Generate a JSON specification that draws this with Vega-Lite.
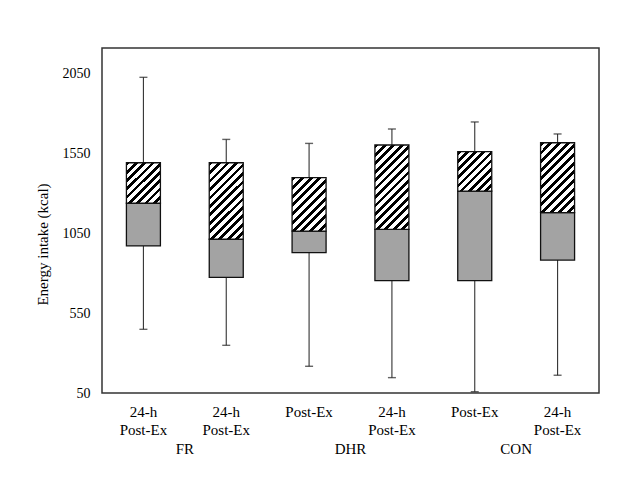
{
  "$schema": "https://vega.github.io/schema/vega-lite/v6.json",
  "width": 497,
  "height": 345,
  "autosize": {"type": "none"},
  "padding": {"left": 102, "top": 48, "right": 19, "bottom": 104},
  "background": "white",
  "config": {
    "view": {"stroke": "#333", "strokeWidth": 1.5},
    "font": "Liberation Serif",
    "axis": {"labelFont": "Liberation Serif", "titleFont": "Liberation Serif", "labelColor": "#000", "titleColor": "#000", "titleFontWeight": "normal"},
    "axisY": {"ticks": false, "domain": false, "grid": false, "labelFontSize": 14, "labelPadding": 12, "titleFontSize": 15, "titleX": -52, "titleY": 196, "titleAngle": -90, "titleBaseline": "bottom", "titleAlign": "center", "format": "d"}
  },
  "datasets": {
    "boxes": [
      {"key": "1|24-h|Post-Ex", "group": "FR", "lower": 448, "q1": 969, "median": 1236, "q3": 1489, "upper": 2023},
      {"key": "2|24-h|Post-Ex", "group": "FR", "lower": 348, "q1": 773, "median": 1011, "q3": 1489, "upper": 1635},
      {"key": "3|Post-Ex", "group": "DHR", "lower": 217, "q1": 927, "median": 1062, "q3": 1396, "upper": 1610},
      {"key": "4|24-h|Post-Ex", "group": "DHR", "lower": 146, "q1": 752, "median": 1073, "q3": 1600, "upper": 1700},
      {"key": "5|Post-Ex", "group": "CON", "lower": 58, "q1": 752, "median": 1312, "q3": 1558, "upper": 1744},
      {"key": "6|24-h|Post-Ex", "group": "CON", "lower": 161, "q1": 881, "median": 1177, "q3": 1614, "upper": 1669}
    ],
    "groups": [{"group": "FR"}, {"group": "DHR"}, {"group": "CON"}]
  },
  "layer": [
    {
      "data": {"name": "boxes"},
      "encoding": {
        "x": {
          "field": "key", "type": "nominal", "sort": null,
          "scale": {"paddingInner": 0, "paddingOuter": 0},
          "axis": {"title": null, "labelExpr": "slice(split(datum.value,'|'),1)", "labelAngle": 0, "labelFontSize": 15, "labelLineHeight": 18, "labelPadding": 11, "ticks": false, "domain": false, "labelBaseline": "top"}
        }
      },
      "layer": [
        {
          "mark": {"type": "rule", "color": "#333", "strokeWidth": 1.1},
          "encoding": {
            "y": {"field": "lower", "type": "quantitative", "title": "Energy intake (kcal)", "scale": {"domain": [50, 2206.25], "nice": false, "zero": false},
              "axis": {"values": [50, 550, 1050, 1550, 2050], "format": "d"}},
            "y2": {"field": "upper"}
          }
        },
        {
          "mark": {"type": "tick", "orient": "horizontal", "size": 8, "thickness": 1.4, "color": "#222"},
          "encoding": {"y": {"field": "upper", "type": "quantitative", "title": "Energy intake (kcal)"}}
        },
        {
          "mark": {"type": "tick", "orient": "horizontal", "size": 8, "thickness": 1.4, "color": "#222"},
          "encoding": {"y": {"field": "lower", "type": "quantitative", "title": "Energy intake (kcal)"}}
        },
        {
          "mark": {"type": "bar", "width": 34, "fill": "#a3a3a3", "stroke": "#111", "strokeWidth": 1.3},
          "encoding": {"y": {"field": "q1", "type": "quantitative", "title": "Energy intake (kcal)"}, "y2": {"field": "median"}}
        },
        {
          "transform": [{"filter": "datum.key == '1|24-h|Post-Ex'"}],
          "mark": {"type": "bar", "width": 34, "stroke": "#111", "strokeWidth": 1.3,
            "fill": {"gradient": "linear", "x1": 0, "y1": 0, "x2": 0.9059, "y2": 1.079, "stops": [
              {"offset": 0, "color": "#000"}, {"offset": 0.05, "color": "#000"}, {"offset": 0.05, "color": "#fff"}, {"offset": 0.1111, "color": "#fff"},
              {"offset": 0.1111, "color": "#000"}, {"offset": 0.1611, "color": "#000"}, {"offset": 0.1611, "color": "#fff"}, {"offset": 0.2222, "color": "#fff"},
              {"offset": 0.2222, "color": "#000"}, {"offset": 0.2722, "color": "#000"}, {"offset": 0.2722, "color": "#fff"}, {"offset": 0.3333, "color": "#fff"},
              {"offset": 0.3333, "color": "#000"}, {"offset": 0.3833, "color": "#000"}, {"offset": 0.3833, "color": "#fff"}, {"offset": 0.4444, "color": "#fff"},
              {"offset": 0.4444, "color": "#000"}, {"offset": 0.4944, "color": "#000"}, {"offset": 0.4944, "color": "#fff"}, {"offset": 0.5556, "color": "#fff"},
              {"offset": 0.5556, "color": "#000"}, {"offset": 0.6056, "color": "#000"}, {"offset": 0.6056, "color": "#fff"}, {"offset": 0.6667, "color": "#fff"},
              {"offset": 0.6667, "color": "#000"}, {"offset": 0.7167, "color": "#000"}, {"offset": 0.7167, "color": "#fff"}, {"offset": 0.7778, "color": "#fff"},
              {"offset": 0.7778, "color": "#000"}, {"offset": 0.8278, "color": "#000"}, {"offset": 0.8278, "color": "#fff"}, {"offset": 0.8889, "color": "#fff"},
              {"offset": 0.8889, "color": "#000"}, {"offset": 0.9389, "color": "#000"}, {"offset": 0.9389, "color": "#fff"}, {"offset": 1, "color": "#fff"}
            ]}},
          "encoding": {"y": {"field": "median", "type": "quantitative", "title": "Energy intake (kcal)"}, "y2": {"field": "q3"}}
        },
        {
          "transform": [{"filter": "datum.key == '2|24-h|Post-Ex'"}],
          "mark": {"type": "bar", "width": 34, "stroke": "#111", "strokeWidth": 1.3,
            "fill": {"gradient": "linear", "x1": 0, "y1": 0, "x2": 0.5361, "y2": 1.2062, "stops": [
              {"offset": 0, "color": "#000"}, {"offset": 0.0346, "color": "#000"}, {"offset": 0.0346, "color": "#fff"}, {"offset": 0.0769, "color": "#fff"},
              {"offset": 0.0769, "color": "#000"}, {"offset": 0.1115, "color": "#000"}, {"offset": 0.1115, "color": "#fff"}, {"offset": 0.1538, "color": "#fff"},
              {"offset": 0.1538, "color": "#000"}, {"offset": 0.1885, "color": "#000"}, {"offset": 0.1885, "color": "#fff"}, {"offset": 0.2308, "color": "#fff"},
              {"offset": 0.2308, "color": "#000"}, {"offset": 0.2654, "color": "#000"}, {"offset": 0.2654, "color": "#fff"}, {"offset": 0.3077, "color": "#fff"},
              {"offset": 0.3077, "color": "#000"}, {"offset": 0.3423, "color": "#000"}, {"offset": 0.3423, "color": "#fff"}, {"offset": 0.3846, "color": "#fff"},
              {"offset": 0.3846, "color": "#000"}, {"offset": 0.4192, "color": "#000"}, {"offset": 0.4192, "color": "#fff"}, {"offset": 0.4615, "color": "#fff"},
              {"offset": 0.4615, "color": "#000"}, {"offset": 0.4962, "color": "#000"}, {"offset": 0.4962, "color": "#fff"}, {"offset": 0.5385, "color": "#fff"},
              {"offset": 0.5385, "color": "#000"}, {"offset": 0.5731, "color": "#000"}, {"offset": 0.5731, "color": "#fff"}, {"offset": 0.6154, "color": "#fff"},
              {"offset": 0.6154, "color": "#000"}, {"offset": 0.65, "color": "#000"}, {"offset": 0.65, "color": "#fff"}, {"offset": 0.6923, "color": "#fff"},
              {"offset": 0.6923, "color": "#000"}, {"offset": 0.7269, "color": "#000"}, {"offset": 0.7269, "color": "#fff"}, {"offset": 0.7692, "color": "#fff"},
              {"offset": 0.7692, "color": "#000"}, {"offset": 0.8038, "color": "#000"}, {"offset": 0.8038, "color": "#fff"}, {"offset": 0.8462, "color": "#fff"},
              {"offset": 0.8462, "color": "#000"}, {"offset": 0.8808, "color": "#000"}, {"offset": 0.8808, "color": "#fff"}, {"offset": 0.9231, "color": "#fff"},
              {"offset": 0.9231, "color": "#000"}, {"offset": 0.9577, "color": "#000"}, {"offset": 0.9577, "color": "#fff"}, {"offset": 1, "color": "#fff"}
            ]}},
          "encoding": {"y": {"field": "median", "type": "quantitative", "title": "Energy intake (kcal)"}, "y2": {"field": "q3"}}
        },
        {
          "transform": [{"filter": "datum.key == '3|Post-Ex'"}],
          "mark": {"type": "bar", "width": 34, "stroke": "#111", "strokeWidth": 1.3,
            "fill": {"gradient": "linear", "x1": 0, "y1": 0, "x2": 0.7415, "y2": 1.1646, "stops": [
              {"offset": 0, "color": "#000"}, {"offset": 0.045, "color": "#000"}, {"offset": 0.045, "color": "#fff"}, {"offset": 0.1, "color": "#fff"},
              {"offset": 0.1, "color": "#000"}, {"offset": 0.145, "color": "#000"}, {"offset": 0.145, "color": "#fff"}, {"offset": 0.2, "color": "#fff"},
              {"offset": 0.2, "color": "#000"}, {"offset": 0.245, "color": "#000"}, {"offset": 0.245, "color": "#fff"}, {"offset": 0.3, "color": "#fff"},
              {"offset": 0.3, "color": "#000"}, {"offset": 0.345, "color": "#000"}, {"offset": 0.345, "color": "#fff"}, {"offset": 0.4, "color": "#fff"},
              {"offset": 0.4, "color": "#000"}, {"offset": 0.445, "color": "#000"}, {"offset": 0.445, "color": "#fff"}, {"offset": 0.5, "color": "#fff"},
              {"offset": 0.5, "color": "#000"}, {"offset": 0.545, "color": "#000"}, {"offset": 0.545, "color": "#fff"}, {"offset": 0.6, "color": "#fff"},
              {"offset": 0.6, "color": "#000"}, {"offset": 0.645, "color": "#000"}, {"offset": 0.645, "color": "#fff"}, {"offset": 0.7, "color": "#fff"},
              {"offset": 0.7, "color": "#000"}, {"offset": 0.745, "color": "#000"}, {"offset": 0.745, "color": "#fff"}, {"offset": 0.8, "color": "#fff"},
              {"offset": 0.8, "color": "#000"}, {"offset": 0.845, "color": "#000"}, {"offset": 0.845, "color": "#fff"}, {"offset": 0.9, "color": "#fff"},
              {"offset": 0.9, "color": "#000"}, {"offset": 0.945, "color": "#000"}, {"offset": 0.945, "color": "#fff"}, {"offset": 1, "color": "#fff"}
            ]}},
          "encoding": {"y": {"field": "median", "type": "quantitative", "title": "Energy intake (kcal)"}, "y2": {"field": "q3"}}
        },
        {
          "transform": [{"filter": "datum.key == '4|24-h|Post-Ex'"}],
          "mark": {"type": "bar", "width": 34, "stroke": "#111", "strokeWidth": 1.3,
            "fill": {"gradient": "linear", "x1": 0, "y1": 0, "x2": 0.4868, "y2": 1.207, "stops": [
              {"offset": 0, "color": "#000"}, {"offset": 0.0321, "color": "#000"}, {"offset": 0.0321, "color": "#fff"}, {"offset": 0.0714, "color": "#fff"},
              {"offset": 0.0714, "color": "#000"}, {"offset": 0.1036, "color": "#000"}, {"offset": 0.1036, "color": "#fff"}, {"offset": 0.1429, "color": "#fff"},
              {"offset": 0.1429, "color": "#000"}, {"offset": 0.175, "color": "#000"}, {"offset": 0.175, "color": "#fff"}, {"offset": 0.2143, "color": "#fff"},
              {"offset": 0.2143, "color": "#000"}, {"offset": 0.2464, "color": "#000"}, {"offset": 0.2464, "color": "#fff"}, {"offset": 0.2857, "color": "#fff"},
              {"offset": 0.2857, "color": "#000"}, {"offset": 0.3179, "color": "#000"}, {"offset": 0.3179, "color": "#fff"}, {"offset": 0.3571, "color": "#fff"},
              {"offset": 0.3571, "color": "#000"}, {"offset": 0.3893, "color": "#000"}, {"offset": 0.3893, "color": "#fff"}, {"offset": 0.4286, "color": "#fff"},
              {"offset": 0.4286, "color": "#000"}, {"offset": 0.4607, "color": "#000"}, {"offset": 0.4607, "color": "#fff"}, {"offset": 0.5, "color": "#fff"},
              {"offset": 0.5, "color": "#000"}, {"offset": 0.5321, "color": "#000"}, {"offset": 0.5321, "color": "#fff"}, {"offset": 0.5714, "color": "#fff"},
              {"offset": 0.5714, "color": "#000"}, {"offset": 0.6036, "color": "#000"}, {"offset": 0.6036, "color": "#fff"}, {"offset": 0.6429, "color": "#fff"},
              {"offset": 0.6429, "color": "#000"}, {"offset": 0.675, "color": "#000"}, {"offset": 0.675, "color": "#fff"}, {"offset": 0.7143, "color": "#fff"},
              {"offset": 0.7143, "color": "#000"}, {"offset": 0.7464, "color": "#000"}, {"offset": 0.7464, "color": "#fff"}, {"offset": 0.7857, "color": "#fff"},
              {"offset": 0.7857, "color": "#000"}, {"offset": 0.8179, "color": "#000"}, {"offset": 0.8179, "color": "#fff"}, {"offset": 0.8571, "color": "#fff"},
              {"offset": 0.8571, "color": "#000"}, {"offset": 0.8893, "color": "#000"}, {"offset": 0.8893, "color": "#fff"}, {"offset": 0.9286, "color": "#fff"},
              {"offset": 0.9286, "color": "#000"}, {"offset": 0.9607, "color": "#000"}, {"offset": 0.9607, "color": "#fff"}, {"offset": 1, "color": "#fff"}
            ]}},
          "encoding": {"y": {"field": "median", "type": "quantitative", "title": "Energy intake (kcal)"}, "y2": {"field": "q3"}}
        },
        {
          "transform": [{"filter": "datum.key == '5|Post-Ex'"}],
          "mark": {"type": "bar", "width": 34, "stroke": "#111", "strokeWidth": 1.3,
            "fill": {"gradient": "linear", "x1": 0, "y1": 0, "x2": 0.9214, "y2": 1.0678, "stops": [
              {"offset": 0, "color": "#000"}, {"offset": 0.05, "color": "#000"}, {"offset": 0.05, "color": "#fff"}, {"offset": 0.1111, "color": "#fff"},
              {"offset": 0.1111, "color": "#000"}, {"offset": 0.1611, "color": "#000"}, {"offset": 0.1611, "color": "#fff"}, {"offset": 0.2222, "color": "#fff"},
              {"offset": 0.2222, "color": "#000"}, {"offset": 0.2722, "color": "#000"}, {"offset": 0.2722, "color": "#fff"}, {"offset": 0.3333, "color": "#fff"},
              {"offset": 0.3333, "color": "#000"}, {"offset": 0.3833, "color": "#000"}, {"offset": 0.3833, "color": "#fff"}, {"offset": 0.4444, "color": "#fff"},
              {"offset": 0.4444, "color": "#000"}, {"offset": 0.4944, "color": "#000"}, {"offset": 0.4944, "color": "#fff"}, {"offset": 0.5556, "color": "#fff"},
              {"offset": 0.5556, "color": "#000"}, {"offset": 0.6056, "color": "#000"}, {"offset": 0.6056, "color": "#fff"}, {"offset": 0.6667, "color": "#fff"},
              {"offset": 0.6667, "color": "#000"}, {"offset": 0.7167, "color": "#000"}, {"offset": 0.7167, "color": "#fff"}, {"offset": 0.7778, "color": "#fff"},
              {"offset": 0.7778, "color": "#000"}, {"offset": 0.8278, "color": "#000"}, {"offset": 0.8278, "color": "#fff"}, {"offset": 0.8889, "color": "#fff"},
              {"offset": 0.8889, "color": "#000"}, {"offset": 0.9389, "color": "#000"}, {"offset": 0.9389, "color": "#fff"}, {"offset": 1, "color": "#fff"}
            ]}},
          "encoding": {"y": {"field": "median", "type": "quantitative", "title": "Energy intake (kcal)"}, "y2": {"field": "q3"}}
        },
        {
          "transform": [{"filter": "datum.key == '6|24-h|Post-Ex'"}],
          "mark": {"type": "bar", "width": 34, "stroke": "#111", "strokeWidth": 1.3,
            "fill": {"gradient": "linear", "x1": 0, "y1": 0, "x2": 0.5847, "y2": 1.202, "stops": [
              {"offset": 0, "color": "#000"}, {"offset": 0.0375, "color": "#000"}, {"offset": 0.0375, "color": "#fff"}, {"offset": 0.0833, "color": "#fff"},
              {"offset": 0.0833, "color": "#000"}, {"offset": 0.1208, "color": "#000"}, {"offset": 0.1208, "color": "#fff"}, {"offset": 0.1667, "color": "#fff"},
              {"offset": 0.1667, "color": "#000"}, {"offset": 0.2042, "color": "#000"}, {"offset": 0.2042, "color": "#fff"}, {"offset": 0.25, "color": "#fff"},
              {"offset": 0.25, "color": "#000"}, {"offset": 0.2875, "color": "#000"}, {"offset": 0.2875, "color": "#fff"}, {"offset": 0.3333, "color": "#fff"},
              {"offset": 0.3333, "color": "#000"}, {"offset": 0.3708, "color": "#000"}, {"offset": 0.3708, "color": "#fff"}, {"offset": 0.4167, "color": "#fff"},
              {"offset": 0.4167, "color": "#000"}, {"offset": 0.4542, "color": "#000"}, {"offset": 0.4542, "color": "#fff"}, {"offset": 0.5, "color": "#fff"},
              {"offset": 0.5, "color": "#000"}, {"offset": 0.5375, "color": "#000"}, {"offset": 0.5375, "color": "#fff"}, {"offset": 0.5833, "color": "#fff"},
              {"offset": 0.5833, "color": "#000"}, {"offset": 0.6208, "color": "#000"}, {"offset": 0.6208, "color": "#fff"}, {"offset": 0.6667, "color": "#fff"},
              {"offset": 0.6667, "color": "#000"}, {"offset": 0.7042, "color": "#000"}, {"offset": 0.7042, "color": "#fff"}, {"offset": 0.75, "color": "#fff"},
              {"offset": 0.75, "color": "#000"}, {"offset": 0.7875, "color": "#000"}, {"offset": 0.7875, "color": "#fff"}, {"offset": 0.8333, "color": "#fff"},
              {"offset": 0.8333, "color": "#000"}, {"offset": 0.8708, "color": "#000"}, {"offset": 0.8708, "color": "#fff"}, {"offset": 0.9167, "color": "#fff"},
              {"offset": 0.9167, "color": "#000"}, {"offset": 0.9542, "color": "#000"}, {"offset": 0.9542, "color": "#fff"}, {"offset": 1, "color": "#fff"}
            ]}},
          "encoding": {"y": {"field": "median", "type": "quantitative", "title": "Energy intake (kcal)"}, "y2": {"field": "q3"}}
        }
      ]
    },
    {
      "data": {"name": "groups"},
      "mark": {"type": "tick", "opacity": 0},
      "encoding": {
        "x": {"field": "group", "type": "nominal", "sort": ["FR", "DHR", "CON"],
          "axis": {"orient": "bottom", "title": null, "labelPadding": 48, "labelFontSize": 15, "labelAngle": 0, "ticks": false, "domain": false}}
      }
    }
  ],
  "resolve": {"scale": {"x": "independent"}, "axis": {"x": "independent"}}
}
